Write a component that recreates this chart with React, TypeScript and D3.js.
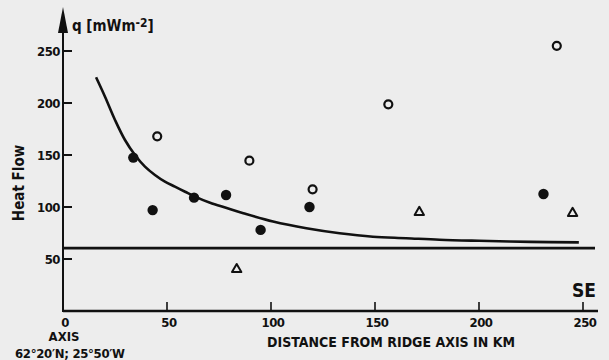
import { useEffect, useRef } from 'react';
import * as d3 from 'd3';

// distance from ridge axis (km), heat flow q (mW m-2)
const filledKm = [33.8, 43.1, 63, 78.4, 95, 118.5, 231];
const filledQ = [147.5, 97, 109, 111.5, 78, 100, 112.5];

const openKm = [45.3, 89.6, 120, 156.4, 237.4];
const openQ = [168, 144.5, 117, 198.7, 255];

const triKm = [83.5, 171.3, 245];
const triQ = [40, 95, 94];

const crossKm = [10.3, 20.5, 62.2];
const crossQ = [42, 66.6, 130.5];

// model curve
const curveKm = [15.9, 20.2, 25, 29.8, 34.6, 39.4, 44.2, 49, 53.8, 58.7, 63.5, 70.7, 78.7, 86.7, 101, 117, 133, 149, 165, 181, 200, 225, 248];
const curveQ = [224.7, 206, 183.7, 164.4, 150, 138.8, 130.8, 124.4, 119.6, 114.7, 110, 104, 99, 94, 86, 79.5, 74.7, 71.4, 70, 68.5, 67.5, 66.5, 66];

const baseLevel = 60.5;

const xTicks = [0, 50, 100, 150, 200, 250];
const yTicks = [50, 100, 150, 200, 250];

const W = 609;
const H = 360;
const FONT = "'Liberation Sans Narrow', 'DejaVu Sans Condensed', Arial, sans-serif";

export default function App() {
  const svgRef = useRef<SVGSVGElement>(null);

  useEffect(() => {
    const el = svgRef.current;
    if (!el) return;
    d3.select(el).selectAll('*').remove();

    const svg = d3.select(el).attr('width', W).attr('height', H);

    const x = d3.scaleLinear().domain([0, 250]).range([63, 583]);
    const y = d3.scaleLinear().domain([0, 250]).range([311, 51]);
    const ink = '#111';

    // paper
    svg.append('rect').attr('width', W).attr('height', H).attr('fill', '#ededed');

    // axes
    svg.append('line')
      .attr('x1', x(0)).attr('x2', 598)
      .attr('y1', y(0)).attr('y2', y(0))
      .attr('stroke', ink).attr('stroke-width', 2.6);

    svg.append('line')
      .attr('x1', x(0)).attr('x2', x(0))
      .attr('y1', y(0) + 1).attr('y2', 20)
      .attr('stroke', ink).attr('stroke-width', 2);

    // arrow head on y axis
    svg.append('path')
      .attr('d', `M${x(0)},7 L${x(0) - 5},33 L${x(0) + 5},33 Z`)
      .attr('fill', ink);

    svg.append('text')
      .attr('x', 72).attr('y', 31)
      .attr('font-family', FONT).attr('font-size', 15).attr('font-weight', 700)
      .attr('fill', ink)
      .text('q [mWm')
      .append('tspan').attr('dy', -4).attr('font-size', 12).text('-2')
      .append('tspan').attr('dy', 4).attr('font-size', 15).text(']');

    // ticks
    const yt = svg.append('g');
    yTicks.forEach((t) => {
      yt.append('line')
        .attr('x1', x(0)).attr('x2', x(0) + 9)
        .attr('y1', y(t)).attr('y2', y(t))
        .attr('stroke', ink).attr('stroke-width', 2);
      yt.append('text')
        .attr('x', 60).attr('y', y(t))
        .attr('text-anchor', 'end').attr('dominant-baseline', 'central')
        .attr('font-family', FONT).attr('font-size', 13).attr('font-weight', 700)
        .attr('letter-spacing', -0.5)
        .attr('fill', ink).text(t);
    });

    const xt = svg.append('g');
    xTicks.forEach((t) => {
      if (t > 0) {
        xt.append('line')
          .attr('x1', x(t)).attr('x2', x(t))
          .attr('y1', y(0)).attr('y2', y(0) - 9)
          .attr('stroke', ink).attr('stroke-width', 1.6);
      }
      xt.append('text')
        .attr('x', x(t) + 2).attr('y', 327)
        .attr('text-anchor', 'middle')
        .attr('font-family', FONT).attr('font-size', 13).attr('font-weight', 700)
        .attr('letter-spacing', -0.5)
        .attr('fill', ink).text(t);
    });

    // labels
    svg.append('text')
      .attr('transform', 'translate(24,183) rotate(-90)')
      .attr('text-anchor', 'middle')
      .attr('font-family', FONT).attr('font-size', 15).attr('font-weight', 700)
      .attr('fill', ink).text('Heat Flow');

    svg.append('text')
      .attr('x', 64).attr('y', 341)
      .attr('text-anchor', 'middle')
      .attr('font-family', FONT).attr('font-size', 13).attr('font-weight', 700)
      .attr('fill', ink).text('AXIS');

    svg.append('text')
      .attr('x', 15).attr('y', 358)
      .attr('textLength', 110)
      .attr('font-family', FONT).attr('font-size', 13).attr('font-weight', 700)
      .attr('fill', ink).text('62°20′N; 25°50′W');

    svg.append('text')
      .attr('x', 267).attr('y', 347)
      .attr('textLength', 248)
      .attr('font-family', FONT).attr('font-size', 14).attr('font-weight', 700)
      .attr('fill', ink).text('DISTANCE FROM RIDGE AXIS IN KM');

    svg.append('text')
      .attr('x', 572).attr('y', 297)
      .attr('font-family', FONT).attr('font-size', 19).attr('font-weight', 700)
      .attr('fill', ink).text('SE');

    // reference level
    svg.append('line')
      .attr('x1', x(0)).attr('x2', 595)
      .attr('y1', y(baseLevel)).attr('y2', y(baseLevel))
      .attr('stroke', ink).attr('stroke-width', 2.6);

    // model curve
    const line = d3.line<number>()
      .x((_, i) => x(curveKm[i]))
      .y((d) => y(d))
      .curve(d3.curveCatmullRom);
    svg.append('path')
      .attr('d', line(curveQ) || '')
      .attr('fill', 'none')
      .attr('stroke', ink).attr('stroke-width', 2.6);

    // markers
    svg.append('g').selectAll('circle')
      .data(filledKm)
      .join('circle')
      .attr('cx', (d) => x(d))
      .attr('cy', (_, i) => y(filledQ[i]))
      .attr('r', 5.2)
      .attr('fill', ink);

    svg.append('g').selectAll('circle')
      .data(openKm)
      .join('circle')
      .attr('cx', (d) => x(d))
      .attr('cy', (_, i) => y(openQ[i]))
      .attr('r', 4)
      .attr('fill', 'none')
      .attr('stroke', ink).attr('stroke-width', 2.2);

    const tri = d3.symbol().type(d3.symbolTriangle).size(38);
    svg.append('g').selectAll('path')
      .data(triKm)
      .join('path')
      .attr('transform', (d, i) => `translate(${x(d)},${y(triQ[i])})`)
      .attr('d', tri() || '')
      .attr('fill', 'none')
      .attr('stroke', ink).attr('stroke-width', 2)
      .attr('stroke-linejoin', 'round');

    const cross = d3.symbol().type(d3.symbolTimes).size(22);
    svg.append('g').selectAll('path')
      .data(crossKm)
      .join('path')
      .attr('transform', (d, i) => `translate(${x(d)},${y(crossQ[i])})`)
      .attr('d', cross() || '')
      .attr('fill', ink);
  }, []);

  return (
    <svg ref={svgRef} width={W} height={H} style={{ position: 'fixed', left: 0, top: 0, display: 'block' }} />
  );
}
